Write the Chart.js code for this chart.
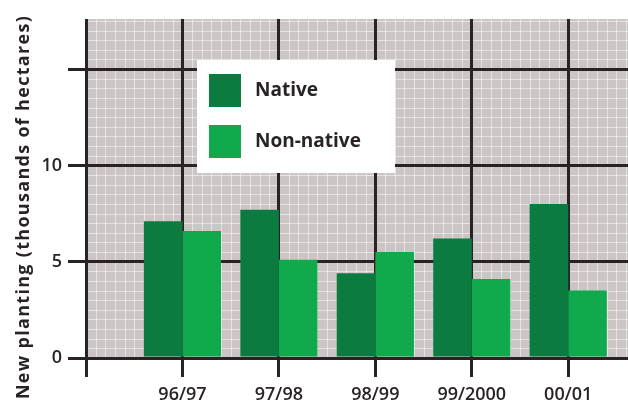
<!DOCTYPE html>
<html>
<head>
<meta charset="utf-8">
<script src="https://cdn.jsdelivr.net/npm/chart.js@4/dist/chart.umd.min.js"></script>
<style>
  html, body { margin: 0; padding: 0; background: #fff; overflow: hidden; }
  #wrap { width: 628px; height: 401px; }
</style>
</head>
<body>
<div id="wrap"><canvas id="chart" width="628" height="401"></canvas></div>
<script>
const seasons = ['96/97', '97/98', '98/99', '99/2000', '00/01'];
const native = [7.1, 7.7, 4.4, 6.2, 8.0];
const nonNative = [6.6, 5.1, 5.5, 4.1, 3.5];
const yTicks = [0, 5, 10];

const DARK = '#0b7b3f', LIGHT = '#10aa4c', INK = '#2a2326';
const FONT = '"Open Sans", "DejaVu Sans", sans-serif';

// gray paper with fine white squares behind everything
const paper = {
  id: 'paper',
  beforeDraw(chart){
    const {ctx, chartArea: a, scales: {x, y}} = chart;
    ctx.save();
    ctx.fillStyle = '#cbc6c5';
    ctx.fillRect(a.left, a.top, a.right - a.left, a.bottom - a.top);
    ctx.strokeStyle = 'rgba(255,255,255,0.5)';
    ctx.lineWidth = 1;
    ctx.beginPath();
    for (let v = x.min; v <= x.max; v += 0.1){
      const px = Math.round(x.getPixelForValue(v)) + 0.5;
      ctx.moveTo(px, a.top); ctx.lineTo(px, a.bottom);
    }
    for (let v = 0; v <= y.max; v += 0.5){
      const py = Math.round(y.getPixelForValue(v)) + 0.5;
      ctx.moveTo(a.left, py); ctx.lineTo(a.right, py);
    }
    ctx.stroke();
    ctx.restore();
  }
};

// boxed legend sitting on the grid, plus the rotated axis title
const extras = {
  id: 'extras',
  afterDraw(chart){
    const ctx = chart.ctx;
    ctx.save();
    ctx.fillStyle = '#fff';
    ctx.fillRect(197, 60, 198, 113);
    chart.data.datasets.forEach((ds, i) => {
      const top = 74 + i * 51;
      ctx.fillStyle = ds.backgroundColor;
      ctx.fillRect(209, top, 32, 33);
      ctx.fillStyle = INK;
      ctx.font = 'bold 19px ' + FONT;
      ctx.textBaseline = 'middle';
      ctx.textAlign = 'left';
      ctx.fillText(ds.label, 255, top + 17);
    });
    ctx.translate(24, 207);
    ctx.rotate(-Math.PI / 2);
    ctx.fillStyle = INK;
    ctx.font = 'bold 18px ' + FONT;
    ctx.letterSpacing = '1.3px';
    ctx.textAlign = 'center';
    ctx.textBaseline = 'middle';
    ctx.fillText('New planting (thousands of hectares)', 0, 0);
    ctx.restore();
  }
};

new Chart(document.getElementById('chart'), {
  type: 'bar',
  data: {
    datasets: [
      {label: 'Native', data: native.map((v, i) => ({x: i, y: v})), backgroundColor: DARK},
      {label: 'Non-native', data: nonNative.map((v, i) => ({x: i, y: v})), backgroundColor: LIGHT}
    ]
  },
  options: {
    responsive: false,
    animation: false,
    layout: {padding: {top: 19, right: 0, left: 0, bottom: 0}},
    datasets: {bar: {categoryPercentage: 0.8, barPercentage: 1, borderWidth: 0}},
    plugins: {legend: {display: false}, tooltip: {enabled: false}},
    scales: {
      x: {
        type: 'linear', min: -1, max: 4.62, offset: false,
        grid: {offset: false, color: INK, lineWidth: 3, tickLength: 19, tickColor: INK},
        border: {display: false},
        ticks: {
          stepSize: 1, includeBounds: false, autoSkip: false, maxRotation: 0, padding: 7,
          color: INK, font: {family: FONT, size: 18, weight: '600'},
          callback: v => seasons[v] || ''
        },
        afterFit(s){ s.height = 43; }
      },
      y: {
        min: 0, max: 17.6,
        grid: {color: INK, lineWidth: 3, tickLength: 18, tickColor: INK},
        border: {display: false},
        ticks: {
          stepSize: 5, includeBounds: false, padding: 6,
          color: INK, font: {family: FONT, size: 18, weight: '600'},
          callback: v => yTicks.includes(v) ? String(v) : ''
        },
        afterFit(s){ s.width = 86; }
      }
    }
  },
  plugins: [paper, extras]
});
</script>
</body>
</html>
